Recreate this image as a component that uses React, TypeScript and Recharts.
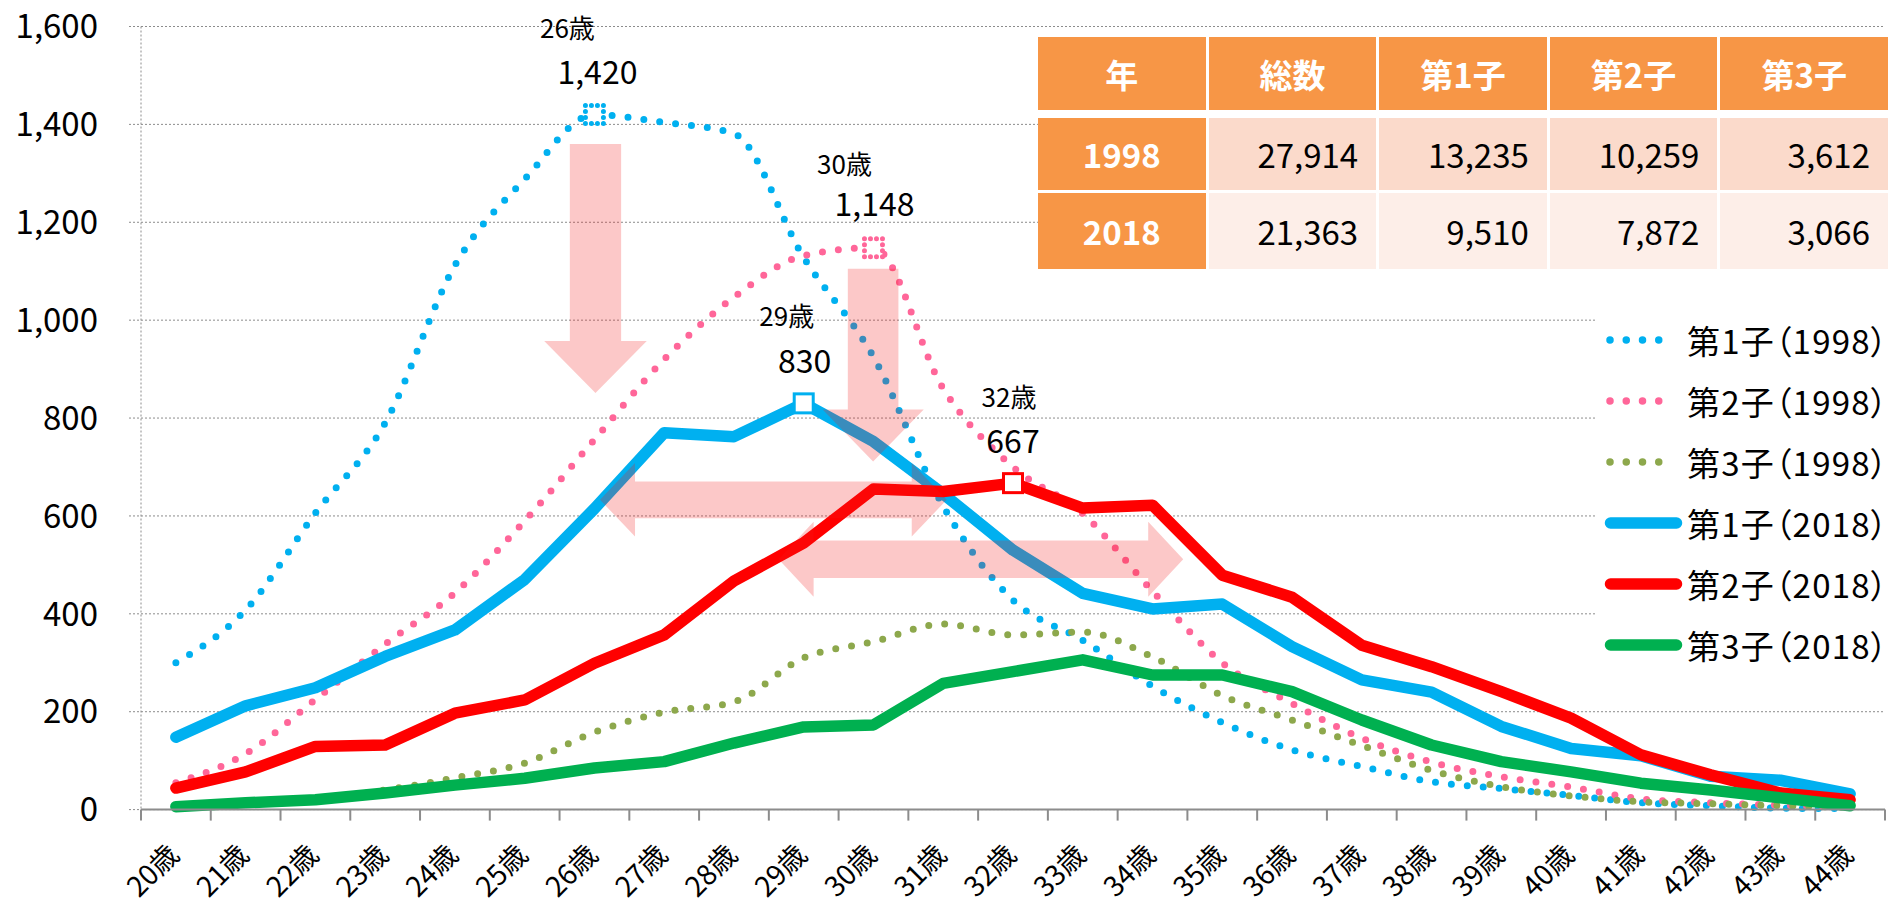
import { CartesianGrid, Line, LineChart, ReferenceArea, ReferenceDot, XAxis, YAxis } from 'recharts'

const ages = [
  '20歳', '21歳', '22歳', '23歳', '24歳', '25歳', '26歳', '27歳', '28歳', '29歳', '30歳', '31歳', '32歳',
  '33歳', '34歳', '35歳', '36歳', '37歳', '38歳', '39歳', '40歳', '41歳', '42歳', '43歳', '44歳',
]
const yTicks = [0, 200, 400, 600, 800, 1000, 1200, 1400, 1600]

// 出生数（人）: 母の年齢別
const first1998 = [300, 408, 606, 790, 1112, 1288, 1420, 1404, 1381, 1128, 925, 620, 428, 346, 252, 178, 122, 88, 57, 43, 29, 14, 8, 3, 2]
const second1998 = [55, 114, 225, 338, 443, 590, 756, 920, 1047, 1132, 1148, 860, 700, 605, 446, 300, 217, 146, 97, 67, 46, 22, 14, 9, 6]
const third1998 = [5, 12, 22, 40, 65, 95, 158, 199, 220, 310, 343, 379, 357, 363, 312, 233, 183, 131, 80, 47, 28, 16, 12, 8, 5]
const first2018 = [148, 212, 249, 313, 367, 470, 615, 770, 762, 830, 752, 645, 530, 442, 410, 420, 333, 265, 240, 170, 125, 110, 68, 60, 32]
const second2018 = [44, 77, 129, 132, 197, 224, 299, 357, 467, 545, 655, 650, 667, 616, 622, 479, 434, 336, 292, 241, 187, 112, 71, 34, 20]
const third2018 = [6, 14, 20, 34, 50, 64, 85, 98, 136, 169, 173, 258, 282, 306, 275, 275, 241, 183, 132, 98, 77, 54, 40, 24, 8]

const tableHead = ['年', '総数', '第1子', '第2子', '第3子']
const tableYears = ['1998', '2018']
const totals1998 = [27914, 13235, 10259, 3612]
const totals2018 = [21363, 9510, 7872, 3066]

const FONT = '"Noto Sans CJK JP", "Noto Sans", sans-serif'
const W = 1889
const H = 911
const PLOT_LEFT = 141
const PLOT_RIGHT = 1885
const BAND = (PLOT_RIGHT - PLOT_LEFT) / ages.length

const series = [
  { key: 'f98', name: '第1子（1998）', values: first1998, color: '#00B0F0', dotted: true },
  { key: 's98', name: '第2子（1998）', values: second1998, color: '#FF6699', dotted: true },
  { key: 't98', name: '第3子（1998）', values: third1998, color: '#8DA84C', dotted: true },
  { key: 'f18', name: '第1子（2018）', values: first2018, color: '#00B0F0', dotted: false },
  { key: 's18', name: '第2子（2018）', values: second2018, color: '#FF0000', dotted: false },
  { key: 't18', name: '第3子（2018）', values: third2018, color: '#00B050', dotted: false },
]

const chartData = ages.map((age, i) => {
  const row: Record<string, number | string> = { idx: i, age }
  series.forEach((s) => { row[s.key] = s.values[i] })
  return row
})

// peaks that get a marker and an age / value label (label offsets in px)
const peaks = [
  { key: 'f98', ageDx: -27, ageDy: -88, valDx: 3, valDy: -45 },
  { key: 's98', ageDx: -29, ageDy: -85, valDx: 1, valDy: -46 },
  { key: 'f18', ageDx: -17, ageDy: -89, valDx: 1, valDy: -44 },
  { key: 's18', ageDx: -4, ageDy: -88, valDx: 0, valDy: -44 },
].map((p) => {
  const s = series.find((x) => x.key === p.key)!
  const max = Math.max(...s.values)
  return { ...p, color: s.color, dotted: s.dotted, idx: s.values.indexOf(max), value: max }
})

// decorative arrows, in axis units
const arrows = [
  { kind: 'down', x1: 5.28, x2: 6.75, y1: 851, y2: 1360 },
  { kind: 'down', x1: 9.27, x2: 10.72, y1: 711, y2: 1105 },
  { kind: 'both', x1: 6.08, x2: 11.05, y1: 558, y2: 708 },
  { kind: 'both', x1: 8.64, x2: 14.44, y1: 435, y2: 588 },
]

function Arrow(props: any) {
  const { x, y, width: w, height: h, kind } = props
  let pts: number[][]
  if (kind === 'down') {
    const hh = 52
    pts = [[x + w * 0.25, y], [x + w * 0.75, y], [x + w * 0.75, y + h - hh], [x + w, y + h - hh], [x + w / 2, y + h], [x, y + h - hh], [x + w * 0.25, y + h - hh]]
  } else {
    const hl = 35
    pts = [[x, y + h / 2], [x + hl, y], [x + hl, y + h * 0.25], [x + w - hl, y + h * 0.25], [x + w - hl, y], [x + w, y + h / 2],
      [x + w - hl, y + h], [x + w - hl, y + h * 0.75], [x + hl, y + h * 0.75], [x + hl, y + h]]
  }
  return <polygon points={pts.map((p) => p.join(',')).join(' ')} fill="#F21A1A" fillOpacity={0.24} />
}

function PeakMark(props: any) {
  const { cx, cy, peak } = props
  return (
    <g>
      {peak.dotted ? (
        <rect x={cx - 9} y={cy - 9} width={18} height={18} fill="#fff" stroke={peak.color} strokeWidth={5} strokeDasharray="0 6" strokeLinecap="round" />
      ) : (
        <rect x={cx - 9.5} y={cy - 9.5} width={19} height={19} fill="#fff" stroke={peak.color} strokeWidth={3} />
      )}
      <text x={cx + peak.ageDx} y={cy + peak.ageDy} textAnchor="middle" dominantBaseline="central" fontSize={26} fill="#000">
        {ages[peak.idx]}
      </text>
      <text x={cx + peak.valDx} y={cy + peak.valDy} textAnchor="middle" dominantBaseline="central" fontSize={32} fill="#000">
        {peak.value.toLocaleString('en-US')}
      </text>
    </g>
  )
}

function AgeTick(props: any) {
  const { x, y, payload } = props
  const i = payload.value as number
  const tx = x + 5
  const ty = y + 47
  return (
    <g>
      <line x1={x - BAND / 2} y1={y} x2={x - BAND / 2} y2={y + 11} stroke="#8c8c8c" strokeWidth={2} />
      {i === ages.length - 1 && <line x1={x + BAND / 2} y1={y} x2={x + BAND / 2} y2={y + 11} stroke="#8c8c8c" strokeWidth={2} />}
      <text x={tx} y={ty} transform={`rotate(-45 ${tx} ${ty})`} textAnchor="end" fontSize={28} fill="#000">
        {ages[i]}
      </text>
    </g>
  )
}

function Legend() {
  return (
    <div style={{ position: 'absolute', left: 1597, top: 300, width: 292, height: 380, background: '#fff', paddingTop: 9.5, boxSizing: 'border-box' }}>
      {series.map((s) => (
        <div key={s.key} style={{ display: 'flex', alignItems: 'center', height: 61 }}>
          <svg width={90} height={20} style={{ flex: 'none' }}>
            {s.dotted ? (
              <line x1={13} y1={10} x2={78} y2={10} stroke={s.color} strokeWidth={7.5} strokeDasharray="0 16.25" strokeLinecap="round" />
            ) : (
              <line x1={13.5} y1={10} x2={79.5} y2={10} stroke={s.color} strokeWidth={11.5} strokeLinecap="round" />
            )}
          </svg>
          <span style={{ fontSize: 33, lineHeight: 1, letterSpacing: 1.2, whiteSpace: 'nowrap', fontFeatureSettings: '"palt"', color: '#000' }}>{s.name}</span>
        </div>
      ))}
    </div>
  )
}

function BirthsTable() {
  const cell = { display: 'flex', alignItems: 'center' } as const
  const rows = [totals1998, totals2018]
  const rowBg = ['#FBDACB', '#FDEEE8']
  const rowH = [72, 76]
  return (
    <div style={{ position: 'absolute', left: 1038, top: 37, width: 850, background: '#fff' }}>
      <div style={{ display: 'grid', gridTemplateColumns: 'repeat(5, 1fr)', columnGap: 3, height: 73 }}>
        {tableHead.map((h) => (
          <div key={h} style={{ ...cell, justifyContent: 'center', background: '#F79646', color: '#fff', fontWeight: 700, fontSize: 33 }}>{h}</div>
        ))}
      </div>
      {rows.map((vals, r) => (
        <div key={tableYears[r]} style={{ display: 'grid', gridTemplateColumns: 'repeat(5, 1fr)', columnGap: 3, height: rowH[r], marginTop: r === 0 ? 8 : 3 }}>
          <div style={{ ...cell, justifyContent: 'center', background: '#F79646', color: '#fff', fontWeight: 700, fontSize: 33 }}>{tableYears[r]}</div>
          {vals.map((v, c) => (
            <div key={c} style={{ ...cell, justifyContent: 'flex-end', paddingRight: 18, background: rowBg[r], color: '#000', fontSize: 33 }}>
              {v.toLocaleString('en-US')}
            </div>
          ))}
        </div>
      ))}
    </div>
  )
}

export default function App() {
  return (
    <div style={{ position: 'absolute', left: 0, top: 0, width: W, height: H, background: '#fff', fontFamily: FONT, overflow: 'hidden' }}>
      <LineChart width={W} height={H} data={chartData} margin={{ top: 26.5, right: W - PLOT_RIGHT, bottom: 0, left: 0 }}>
        <CartesianGrid vertical={false} stroke="#8c8c8c" strokeDasharray="2 2" />
        <XAxis
          type="number"
          dataKey="idx"
          domain={[-0.5, ages.length - 0.5]}
          ticks={ages.map((_, i) => i)}
          interval={0}
          allowDataOverflow
          height={101.4}
          tickSize={0}
          tickMargin={0}
          tickLine={false}
          axisLine={{ stroke: '#8c8c8c', strokeWidth: 2 }}
          tick={<AgeTick />}
        />
        <YAxis
          domain={[0, 1600]}
          ticks={yTicks}
          interval={0}
          width={PLOT_LEFT}
          tickSize={12}
          tickMargin={31}
          tickLine={{ stroke: '#8c8c8c', strokeDasharray: '2 2' }}
          axisLine={{ stroke: '#8c8c8c', strokeDasharray: '2 2' }}
          tick={{ fontSize: 33, fill: '#000' }}
          tickFormatter={(v: number) => v.toLocaleString('en-US')}
        />
        {series.map((s) => (
          <Line
            key={s.key}
            type={s.dotted ? 'monotone' : 'linear'}
            dataKey={s.key}
            name={s.name}
            stroke={s.color}
            strokeWidth={s.dotted ? 7 : 11.5}
            strokeDasharray={s.dotted ? '0 16' : undefined}
            strokeLinecap="round"
            strokeLinejoin="round"
            dot={false}
            activeDot={false}
            isAnimationActive={false}
          />
        ))}
        {arrows.map((a, i) => (
          <ReferenceArea
            key={`arrow-${i}`}
            x1={a.x1}
            x2={a.x2}
            y1={a.y1}
            y2={a.y2}
            ifOverflow="visible"
            zIndex={450}
            shape={(p: any) => <Arrow {...p} kind={a.kind} />}
          />
        ))}
        {peaks.map((p) => (
          <ReferenceDot
            key={`peak-${p.key}`}
            x={p.idx}
            y={p.value}
            r={10}
            ifOverflow="visible"
            zIndex={600}
            shape={(props: any) => <PeakMark {...props} peak={p} />}
          />
        ))}
      </LineChart>
      <BirthsTable />
      <Legend />
    </div>
  )
}
